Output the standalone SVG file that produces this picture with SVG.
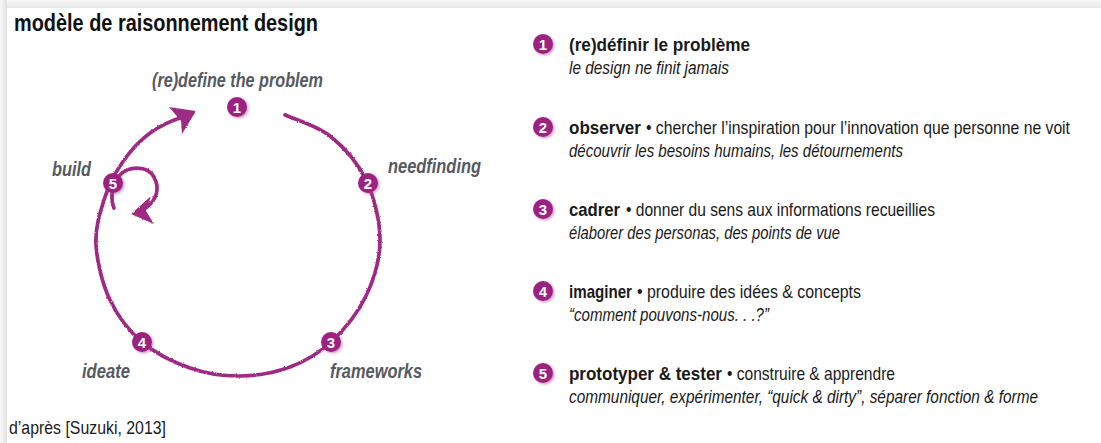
<svg xmlns="http://www.w3.org/2000/svg" width="1101" height="443" viewBox="0 0 1101 443">
<defs>
<style>
text{font-family:"Liberation Sans",Arial,sans-serif}
.title{font-weight:bold;font-size:24px;fill:#111}
.lbl{font-weight:bold;font-style:italic;font-size:20px;fill:#565a5f}
.src{font-size:19px;fill:#1a1a1a}
.r{font-size:16px;fill:#1a1a1a}
.b{font-weight:bold}
.i{font-style:italic}
.num{font-weight:bold;font-size:15px;fill:#fff;text-anchor:middle}
.dot{fill:#9c2182}
.line{fill:none;stroke:#9e2a84;stroke-width:3.7;stroke-linecap:round}
.head{fill:#9e2a84}
</style>
<filter id="chalk" x="-10%" y="-10%" width="120%" height="120%">
<feTurbulence type="fractalNoise" baseFrequency="0.8" numOctaves="2" seed="3"/>
<feDisplacementMap in="SourceGraphic" scale="2.2" xChannelSelector="R" yChannelSelector="G"/>
</filter>
<filter id="sh" x="-50%" y="-50%" width="200%" height="200%">
<feDropShadow dx="1.5" dy="1.5" stdDeviation="1.2" flood-color="#b04a98" flood-opacity="0.55"/>
</filter>
<linearGradient id="gt" x1="0" y1="0" x2="0" y2="1"><stop offset="0" stop-color="#f8f8f8"/><stop offset="1" stop-color="#e8e8e8"/></linearGradient>
<linearGradient id="gl" x1="0" y1="0" x2="1" y2="0"><stop offset="0" stop-color="#f8f8f8"/><stop offset="1" stop-color="#e2e2e2"/></linearGradient>
</defs>
<rect x="0" y="0" width="1101" height="443" fill="#fff"/>
<rect x="0" y="0" width="1101" height="8" fill="url(#gt)"/>
<rect x="0" y="0" width="7" height="443" fill="url(#gl)"/>
<rect x="7" y="8" width="1094" height="435" fill="#fff"/>

<text class="title" x="14" y="31" textLength="304" lengthAdjust="spacingAndGlyphs">modèle de raisonnement design</text>

<g id="connectors" filter="url(#chalk)">
<path class="line" d="M285,115 C292.5,118.5 316.5,125.2 330,136 C343.5,146.8 357.7,162.7 366,180 C374.3,197.3 380,220.7 380,240 C380,259.3 374.2,279 366,296 C357.8,313 343.7,330.2 331,342 C318.3,353.8 305.2,361.3 290,367 C274.8,372.7 256.7,375.8 240,376 C223.3,376.2 206.3,373.7 190,368 C173.7,362.3 155.3,353.3 142,342 C128.7,330.7 117.7,316.2 110,300 C102.3,283.8 97,261.7 96,245 C95,228.3 99.7,213.7 104,200 C108.3,186.3 114.3,174.2 122,163 C129.7,151.8 139,141 150,133 C161,125 176,119 186,116"/>
<polygon class="head" points="169,107 196,111 182,134 181,121"/>
<path class="line" d="M114,208 C110,198 112,184 120,175 C128,166 147,165 154,177 C160,188 157,199 147,207"/>
<polygon class="head" points="151,196 131,214 154,224 146,211"/>
</g>

<g id="node1"><circle class="dot" cx="237" cy="107" r="10" filter="url(#sh)"/><text class="num" x="237" y="112.5">1</text>
<text class="lbl" x="152" y="87" textLength="171" lengthAdjust="spacingAndGlyphs">(re)define the problem</text></g>
<g id="node2"><circle class="dot" cx="368" cy="183" r="10" filter="url(#sh)"/><text class="num" x="368" y="188.5">2</text>
<text class="lbl" x="388" y="173" textLength="93" lengthAdjust="spacingAndGlyphs">needfinding</text></g>
<g id="node3"><circle class="dot" cx="331" cy="342" r="10" filter="url(#sh)"/><text class="num" x="331" y="347.5">3</text>
<text class="lbl" x="330" y="378" textLength="92" lengthAdjust="spacingAndGlyphs">frameworks</text></g>
<g id="node4"><circle class="dot" cx="142" cy="342" r="10" filter="url(#sh)"/><text class="num" x="142" y="347.5">4</text>
<text class="lbl" x="82" y="378" textLength="48" lengthAdjust="spacingAndGlyphs">ideate</text></g>
<g id="node5"><circle class="dot" cx="113" cy="183" r="10" filter="url(#sh)"/><text class="num" x="113" y="188.5">5</text>
<text class="lbl" x="52" y="176" textLength="39" lengthAdjust="spacingAndGlyphs">build</text></g>

<text class="src" x="9" y="434" textLength="157" lengthAdjust="spacingAndGlyphs">d’après [Suzuki, 2013]</text>

<g id="item1"><circle class="dot" cx="543" cy="44" r="10" filter="url(#sh)"/><text class="num" x="543" y="49.5">1</text>
<g transform="matrix(1 0 0 1.2 0 -10.2)"><text class="r b" x="569" y="51" textLength="181" lengthAdjust="spacingAndGlyphs">(re)définir le problème</text></g>
<g transform="matrix(1 0 0 1.2 0 -14.8)"><text class="r i" x="569" y="74" textLength="160" lengthAdjust="spacingAndGlyphs">le design ne finit jamais</text></g></g>
<g id="item2"><circle class="dot" cx="543" cy="127" r="10" filter="url(#sh)"/><text class="num" x="543" y="132.5">2</text>
<g transform="matrix(1 0 0 1.2 0 -26.8)"><text class="r b" x="569" y="134" textLength="72" lengthAdjust="spacingAndGlyphs">observer</text>
<text class="r" x="646" y="134" textLength="424" lengthAdjust="spacingAndGlyphs">• chercher l’inspiration pour l’innovation que personne ne voit</text></g>
<g transform="matrix(1 0 0 1.2 0 -31.4)"><text class="r i" x="569" y="157" textLength="334" lengthAdjust="spacingAndGlyphs">découvrir les besoins humains, les détournements</text></g></g>
<g id="item3"><circle class="dot" cx="543" cy="209" r="10" filter="url(#sh)"/><text class="num" x="543" y="214.5">3</text>
<g transform="matrix(1 0 0 1.2 0 -43.2)"><text class="r b" x="569" y="216" textLength="51" lengthAdjust="spacingAndGlyphs">cadrer</text>
<text class="r" x="626" y="216" textLength="309" lengthAdjust="spacingAndGlyphs">• donner du sens aux informations recueillies</text></g>
<g transform="matrix(1 0 0 1.2 0 -47.8)"><text class="r i" x="569" y="239" textLength="271" lengthAdjust="spacingAndGlyphs">élaborer des personas, des points de vue</text></g></g>
<g id="item4"><circle class="dot" cx="543" cy="291" r="10" filter="url(#sh)"/><text class="num" x="543" y="296.5">4</text>
<g transform="matrix(1 0 0 1.2 0 -59.6)"><text class="r b" x="569" y="298" textLength="63" lengthAdjust="spacingAndGlyphs">imaginer</text>
<text class="r" x="637" y="298" textLength="224" lengthAdjust="spacingAndGlyphs">• produire des idées &amp; concepts</text></g>
<g transform="matrix(1 0 0 1.2 0 -64.2)"><text class="r i" x="569" y="321" textLength="200" lengthAdjust="spacingAndGlyphs">“comment pouvons-nous. . .?”</text></g></g>
<g id="item5"><circle class="dot" cx="543" cy="373" r="10" filter="url(#sh)"/><text class="num" x="543" y="378.5">5</text>
<g transform="matrix(1 0 0 1.2 0 -76)"><text class="r b" x="569" y="380" textLength="153" lengthAdjust="spacingAndGlyphs">prototyper &amp; tester</text>
<text class="r" x="727" y="380" textLength="168" lengthAdjust="spacingAndGlyphs">• construire &amp; apprendre</text></g>
<g transform="matrix(1 0 0 1.2 0 -80.6)"><text class="r i" x="569" y="403" textLength="469" lengthAdjust="spacingAndGlyphs">communiquer, expérimenter, “quick &amp; dirty”, séparer fonction &amp; forme</text></g></g>
</svg>
